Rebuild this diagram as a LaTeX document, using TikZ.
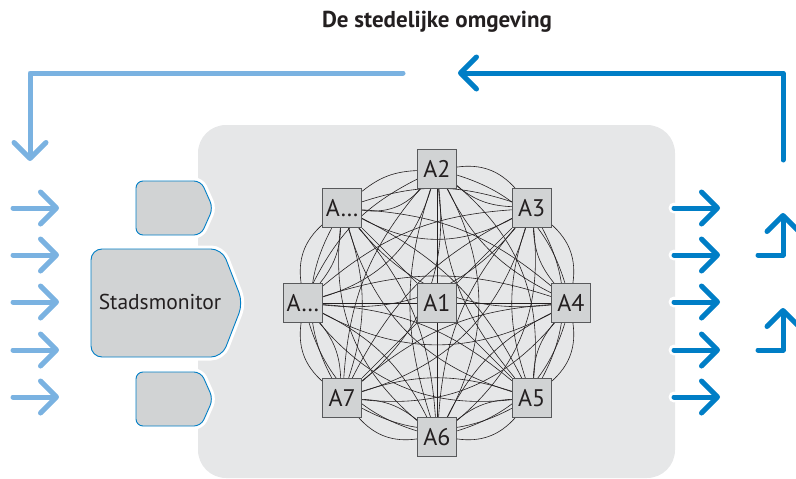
\documentclass[tikz,border=0pt]{standalone}
\usepackage{fontspec}
\setmainfont{PT Sans}
\usetikzlibrary{arrows.meta,calc,positioning}

\definecolor{inblue}{RGB}{122,178,225}
\definecolor{outblue}{RGB}{0,126,198}
\definecolor{panelgray}{RGB}{230,231,232}
\definecolor{agentfill}{RGB}{209,211,212}
\definecolor{agentline}{RGB}{88,89,91}
\definecolor{darktext}{RGB}{35,31,32}

\pgfdeclarelayer{back}
\pgfdeclarelayer{edges}
\pgfsetlayers{back,edges,main}

\begin{document}
\begin{tikzpicture}[x=1pt,y=-1pt,
    agent/.style={draw=agentline,fill=agentfill,line width=0.8pt,minimum width=39pt,minimum height=39pt,inner sep=0pt,text=darktext,font=\fontsize{24}{24}\selectfont},
    link/.style={draw=darktext,line width=0.6pt},
    module/.style={fill=agentfill,draw=outblue,line width=0.9pt,preaction={draw=white,line width=7pt}},
    inarrow/.style={inblue,line width=5pt,line cap=round,line join=round,-{Straight Barb[length=16pt,width=32pt,round]}},
    outarrow/.style={outblue,line width=5pt,line cap=round,line join=round,-{Straight Barb[length=16pt,width=32pt,round]}}]

\useasboundingbox (0,0) rectangle (796,479);

\node[font=\bfseries\fontsize{23}{23}\selectfont,text=darktext] (title) at (437,22) {De stedelijke omgeving};

% de organisatie
\begin{pgfonlayer}{back}
\fill[panelgray,rounded corners=28pt] (198,125) rectangle (675,478);
\end{pgfonlayer}

% monitor en invoer
\draw[module,rounded corners=7pt] (136,181) -- (201,181) -- (213,208) -- (201,235) -- (136,235) -- cycle;
\draw[module,rounded corners=11pt] (91,249) -- (222,249) -- (243,303) -- (222,357) -- (91,357) -- cycle;
\draw[module,rounded corners=7pt] (136,372) -- (201,372) -- (213,399) -- (201,426) -- (136,426) -- cycle;
\node[text=darktext,font=\fontsize{21.5}{21.5}\selectfont] (monitor) at (160,302) {Stadsmonitor};

% pijlen in en uit
\foreach \y [count=\k] in {208,255,302,350,397} {
    \coordinate (ina\k) at (13,\y);
    \coordinate (inb\k) at (59,\y);
    \draw[inarrow] (ina\k) -- (inb\k);
    \coordinate (outa\k) at (674,\y);
    \coordinate (outb\k) at (720,\y);
    \fill[white] (outa\k) circle (5.5pt);
    \draw[outarrow] (outa\k) -- (outb\k);
}

% terugkoppeling
\coordinate (fbla) at (403,73);
\coordinate (fblb) at (30,161);
\draw[inarrow] (fbla) -| (fblb);
\coordinate (fbra) at (783,160);
\coordinate (fbrb) at (458,73);
\draw[outarrow] (fbra) |- (fbrb);
\coordinate (upa1) at (758,255);
\coordinate (upb1) at (783,213);
\draw[outarrow] (upa1) -| (upb1);
\coordinate (upa2) at (758,350);
\coordinate (upb2) at (783,308);
\draw[outarrow] (upa2) -| (upb2);

% netwerk van actoren
\coordinate (hub) at (437,303);
\node[agent] (a1) at (hub) {A1};
\foreach \name/\ang/\lab in {a2/-90/A2,a3/-45/A3,a4/0/A4,a5/45/A5,a6/90/A6,a7/135/A7,a8/180/A…,a9/225/A…}
    \node[agent] (\name) at ($(hub)+(\ang:134)$) {\lab};

\begin{pgfonlayer}{edges}
\foreach \i in {2,...,8} {
    \pgfmathtruncatemacro\nxt{\i+1}
    \foreach \j in {\nxt,...,9} {
        \draw[link] (a\i) to[bend left=28] (a\j);
        \draw[link] (a\i) to[bend right=18] (a\j);
    }
}
\foreach \i in {2,...,9}
    \draw[link] (a1) -- (a\i);
\end{pgfonlayer}
\end{tikzpicture}
\end{document}
